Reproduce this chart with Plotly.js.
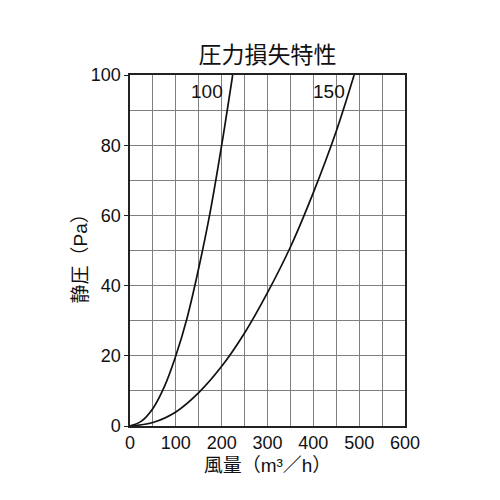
<!DOCTYPE html>
<html>
<head>
<meta charset="utf-8">
<script src="https://cdn.plot.ly/plotly-3.0.1.min.js"></script>
<style>
  html, body { margin: 0; padding: 0; background: #fff; }
  #chart { width: 500px; height: 500px; }
</style>
</head>
<body>
<div id="chart"></div>
<script>
// 100 duct curve
var flow100 = [0, 25, 50, 75, 100, 125, 150, 175, 200, 224];
var pres100 = [0, 1.4, 5, 11.2, 20, 31, 45, 61, 80, 100];

// 150 duct curve
var flow150 = [0, 50, 100, 150, 200, 250, 300, 350, 400, 450, 489];
var pres150 = [0, 1, 4, 9.5, 17, 26.5, 38, 51, 66.5, 84, 100];

var curveNames = ['100', '150'];
var labelFlow = [169, 434];
var labelPres = [95.3, 95.3];

var xTicks = [0, 100, 200, 300, 400, 500, 600];
var yTicks = [0, 20, 40, 60, 80, 100];

var font = 'Liberation Sans, Arial, Noto Sans CJK JP, sans-serif';

var line = {color: '#111', width: 1.7, shape: 'spline', smoothing: 1};

var data = [
    {x: flow100, y: pres100, type: 'scatter', mode: 'lines', line: line, name: curveNames[0]},
    {x: flow150, y: pres150, type: 'scatter', mode: 'lines', line: line, name: curveNames[1]}
];

var annotations = curveNames.map(function (n, i) {
    return {
        x: labelFlow[i], y: labelPres[i], text: n, showarrow: false,
        xref: 'x', yref: 'y', font: {family: font, size: 19, color: '#111'}
    };
});

// y axis title placed close to the tick labels, as in the original
annotations.push({
    text: '静圧（Pa）', textangle: -90, showarrow: false,
    xref: 'paper', yref: 'paper', x: -0.18, y: 0.49,
    xanchor: 'center', yanchor: 'middle',
    font: {family: font, size: 19, color: '#111'}
});

var grid = '#7f7f7f';

var layout = {
    width: 500,
    height: 500,
    margin: {l: 130, r: 95, t: 75, b: 74},
    paper_bgcolor: '#fff',
    plot_bgcolor: '#fff',
    showlegend: false,
    font: {family: font, size: 18, color: '#111'},
    title: {
        text: '圧力損失特性',
        x: 0.535, xanchor: 'center',
        y: 0.89, yanchor: 'middle',
        font: {family: font, size: 23, color: '#111'}
    },
    xaxis: {
        range: [0, 600],
        tickvals: xTicks,
        ticks: '',
        showgrid: true,
        gridcolor: grid,
        gridwidth: 1,
        minor: {dtick: 50, showgrid: true, gridcolor: grid, gridwidth: 1},
        showline: true, mirror: true, linecolor: '#222', linewidth: 1.6,
        zeroline: false,
        tickfont: {size: 18},
        title: {text: '風量（m³／h）', font: {size: 19}, standoff: 6}
    },
    yaxis: {
        range: [0, 100],
        tickvals: yTicks,
        ticks: 'outside', ticklen: 4, tickcolor: '#222',
        showgrid: true,
        gridcolor: grid,
        gridwidth: 1,
        minor: {dtick: 10, showgrid: true, gridcolor: grid, gridwidth: 1},
        showline: true, mirror: true, linecolor: '#222', linewidth: 1.6,
        zeroline: false,
        tickfont: {size: 18}
    },
    annotations: annotations
};

Plotly.newPlot('chart', data, layout, {staticPlot: true});
</script>
</body>
</html>
